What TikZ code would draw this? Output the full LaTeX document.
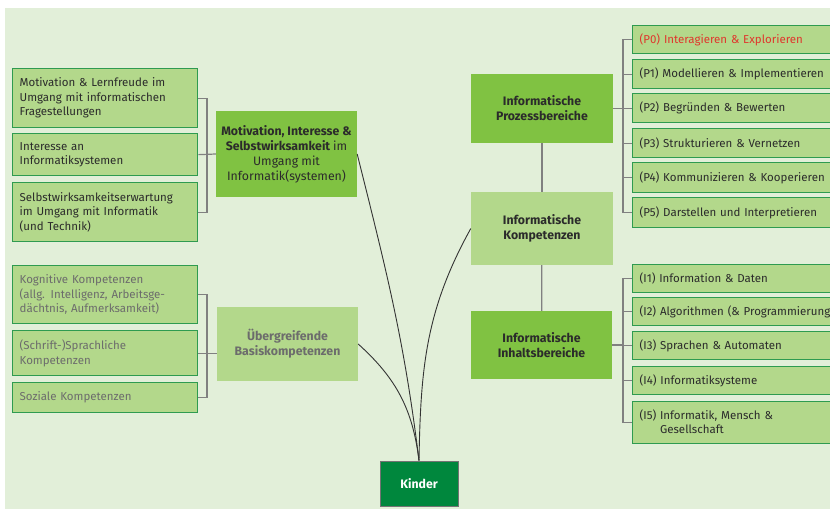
\documentclass[tikz,border=0pt]{standalone}
\usepackage{fontspec}
\setsansfont{Fira Sans}
\usetikzlibrary{positioning}

\definecolor{bgc}{HTML}{E2EFD9}
\definecolor{midgreen}{HTML}{80C242}
\definecolor{lightgreen}{HTML}{B3D88B}
\definecolor{boxline}{HTML}{2E9B50}
\definecolor{darkgreen}{HTML}{00873D}
\definecolor{darktext}{HTML}{2B2B2B}
\definecolor{greytext}{HTML}{6C6C6C}
\definecolor{redtext}{HTML}{E0362C}
\definecolor{linkgrey}{HTML}{808080}

\begin{document}
\begin{tikzpicture}[x=1pt,y=-1pt,
  font=\sffamily\fontsize{11.5}{14.5}\selectfont, text=darktext,
  leaf/.style={draw=boxline, line width=1.3pt, fill=lightgreen, align=left,
    inner xsep=7pt, inner ysep=0pt, anchor=north west},
  leftleaf/.style={leaf, text width=171pt},
  rightleaf/.style={leaf, text width=230pt},
  hub/.style={fill=midgreen, align=center, inner sep=0pt,
    font=\sffamily\bfseries\fontsize{12.3}{15}\selectfont},
  softhub/.style={hub, fill=lightgreen},
  link/.style={draw=linkgrey, line width=1.2pt},
  curve/.style={draw=black!80, line width=0.9pt}]
  \path[use as bounding box, clip] (0,0) rectangle (830,516);
  \fill[bgc] (5,8) rectangle (830,509);

  %Motivation branch
  \node[leftleaf, minimum height=59pt] (motA) at (12,68)
    {Motivation \& Lernfreude im\\Umgang mit informatischen\\Fragestellungen};
  \node[leftleaf, minimum height=42pt] (motB) at (12,133)
    {Interesse an\\Informatiksystemen};
  \node[leftleaf, minimum height=59pt] (motC) at (12,182)
    {Selbstwirksamkeitserwartung\\im Umgang mit Informatik\\(und Technik)};
  \node[hub, minimum width=141pt, minimum height=86pt] (mot) at (286.5,154)
    {Motivation, Interesse \&\\Selbstwirksamkeit \textmd{im}\\\textmd{Umgang mit}\\\textmd{Informatik(systemen)}};
  \coordinate (motbar) at (207,0);
  \draw[link] (motA.east) -| (motbar |- motB.east) |- (motC.east);
  \draw[link] (motB.east) -- (mot.west);

  %Basiskompetenzen branch
  \begin{scope}[text=greytext]
  \node[leftleaf, minimum height=58pt] (basA) at (12,265)
    {Kognitive Kompetenzen\\(allg. Intelligenz, Arbeitsge-\\dächtnis, Aufmerksamkeit)};
  \node[leftleaf, minimum height=45pt] (basB) at (12,330)
    {(Schrift-)Sprachliche\\Kompetenzen};
  \node[leftleaf, minimum height=30pt] (basC) at (12,382)
    {Soziale Kompetenzen};
  \node[softhub, minimum width=141pt, minimum height=74pt] (basis) at (287.5,344)
    {Übergreifende\\Basiskompetenzen};
  \end{scope}
  \coordinate (basbar) at (207,0);
  \draw[link] (basA.east) -| (basbar |- basB.east) |- (basC.east);
  \draw[link] (basB.east) -- (basis.west |- basB.east);

  %Informatik column
  \node[hub, minimum width=142pt, minimum height=69pt] (proz) at (542,108.5)
    {Informatische\\Prozessbereiche};
  \node[softhub, minimum width=142pt, minimum height=73pt] (komp) at (542,228.5)
    {Informatische\\Kompetenzen};
  \node[hub, minimum width=141pt, minimum height=68pt] (inh) at (541.5,345)
    {Informatische\\Inhaltsbereiche};
  \draw[link] (proz) -- (komp);
  \draw[link] (komp) -- (inh);

  %Prozessbereiche
  \node[rightleaf, minimum height=28pt] (p0) at (632,25)
    {\textcolor{redtext}{(P0) Interagieren \& Explorieren}};
  \node[rightleaf, minimum height=29pt] (p1) at (632,59)
    {(P1) Modellieren \& Implementieren};
  \node[rightleaf, minimum height=29pt] (p2) at (632,93)
    {(P2) Begründen \& Bewerten};
  \node[rightleaf, minimum height=29pt] (p3) at (632,128)
    {(P3) Strukturieren \& Vernetzen};
  \node[rightleaf, minimum height=30pt] (p4) at (632,162)
    {(P4) Kommunizieren \& Kooperieren};
  \node[rightleaf, minimum height=30pt] (p5) at (632,197)
    {(P5) Darstellen und Interpretieren};
  \coordinate (pbar) at (623,0);
  \draw[link] (p0.west) -| (pbar |- p5.west) -- (p5.west);
  \foreach \i in {1,...,4}
    \draw[link] (p\i.west) -- (p\i.west -| pbar);
  \draw[link] (proz.east) -- (proz.east -| pbar);

  %Inhaltsbereiche
  \node[rightleaf, minimum height=28pt] (i1) at (632,264)
    {(I1) Information \& Daten};
  \node[rightleaf, minimum height=28pt] (i2) at (632,297)
    {(I2) Algorithmen (\& Programmierung)};
  \node[rightleaf, minimum height=28pt] (i3) at (632,331)
    {(I3) Sprachen \& Automaten};
  \node[rightleaf, minimum height=28pt] (i4) at (632,366)
    {(I4) Informatiksysteme};
  \node[rightleaf, minimum height=42pt] (i5) at (632,401)
    {(I5) Informatik, Mensch \&\\\phantom{(I5) }Gesellschaft};
  \coordinate (ibar) at (623,0);
  \draw[link] (i1.west) -| (ibar |- i5.west) -- (i5.west);
  \foreach \i in {2,...,4}
    \draw[link] (i\i.west) -- (i\i.west -| ibar);
  \draw[link] (inh.east) -- (inh.east -| ibar);

  %Kinder
  \node[fill=darkgreen, draw=black!55, line width=0.8pt, text=white,
    font=\sffamily\bfseries\fontsize{12.3}{15}\selectfont,
    minimum width=78pt, minimum height=45pt] (kinder) at (419,483.5) {Kinder};
  \draw[curve] (kinder.north) to[out=97,in=-76] (mot.east);
  \draw[curve] (kinder.north) to[out=97,in=-42] (basis.east);
  \draw[curve] (kinder.north) to[out=89,in=-119] (komp.west);

\end{tikzpicture}
\end{document}
